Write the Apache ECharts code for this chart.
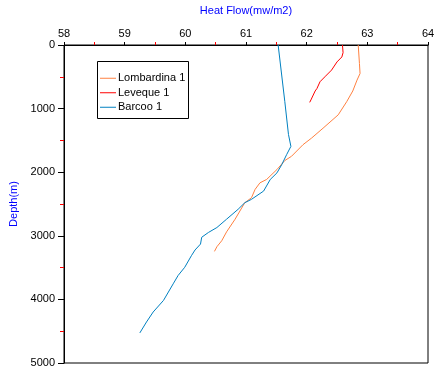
<!DOCTYPE html>
<html>
<head>
<meta charset="utf-8">
<script src="https://cdn.jsdelivr.net/npm/echarts@6/dist/echarts.min.js"></script>
<style>html,body{margin:0;padding:0;background:#fff}#c{width:443px;height:380px}</style>
</head>
<body>
<div id="c"></div>
<script>
var seriesNames = ['Lombardina 1', 'Leveque 1', 'Barcoo 1'];
var seriesColors = ['#FF8040', '#FF0000', '#0080C0'];

// Lombardina 1: heat flow (mw/m2) and depth (m)
var lombardinaHeat  = [62.85, 62.87, 62.88, 62.83, 62.76, 62.66, 62.52, 62.27, 62.08, 61.94, 61.75, 61.64, 61.51, 61.34, 61.23, 61.15, 61.09, 60.98, 60.82, 60.68, 60.60, 60.52, 60.48];
var lombardinaDepth = [0, 292, 448, 552, 723, 891, 1098, 1308, 1464, 1567, 1750, 1817, 1958, 2114, 2167, 2270, 2402, 2480, 2739, 2938, 3078, 3172, 3245];

// Leveque 1
var levequeHeat  = [62.59, 62.60, 62.58, 62.50, 62.41, 62.30, 62.22, 62.17, 62.14, 62.07, 62.05];
var levequeDepth = [0, 120, 188, 266, 395, 500, 578, 683, 723, 864, 902];

// Barcoo 1
var barcooHeat  = [61.53, 61.64, 61.70, 61.74, 61.67, 61.59, 61.51, 61.40, 61.29, 61.09, 60.98, 60.87, 60.68, 60.52, 60.38, 60.27, 60.25, 60.16, 60.10, 59.99, 59.88, 59.80, 59.64, 59.47, 59.36, 59.25];
var barcooDepth = [0, 891, 1406, 1594, 1723, 1880, 2011, 2114, 2297, 2427, 2480, 2583, 2739, 2870, 2948, 3023, 3130, 3223, 3313, 3495, 3625, 3755, 4016, 4198, 4355, 4527];

var xMin = 58, xMax = 64, xStep = 1;
var yMin = 0, yMax = 5000, yStep = 1000;

function pairs(xs, ys) { return xs.map(function (v, i) { return [v, ys[i]]; }); }
var allData = [pairs(lombardinaHeat, lombardinaDepth), pairs(levequeHeat, levequeDepth), pairs(barcooHeat, barcooDepth)];

var chart = echarts.init(document.getElementById('c'), null, {renderer: 'canvas'});
var font = 'Liberation Sans, Arial, sans-serif';
chart.setOption({
  animation: false,
  backgroundColor: '#fff',
  grid: {left: 64, top: 43, width: 364, height: 320, show: true, borderColor: '#000', borderWidth: 1, backgroundColor: 'transparent'},
  xAxis: {
    type: 'value', position: 'top', min: xMin, max: xMax, interval: xStep,
    name: 'Heat Flow(mw/m2)', nameLocation: 'middle', nameGap: 29,
    nameTextStyle: {color: '#0000FF', fontSize: 11, fontFamily: font},
    axisLine: {show: true, lineStyle: {color: '#000', width: 1}},
    axisTick: {show: true, inside: false, length: 3, lineStyle: {color: '#000'}},
    minorTick: {show: true, splitNumber: 2, length: 3, lineStyle: {color: '#FF0000'}},
    axisLabel: {color: '#000', fontSize: 11, fontFamily: font, margin: 6},
    splitLine: {show: false}
  },
  yAxis: {
    type: 'value', inverse: true, min: yMin, max: yMax, interval: yStep,
    name: 'Depth(m)', nameLocation: 'middle', nameGap: 42, nameRotate: 90,
    nameTextStyle: {color: '#0000FF', fontSize: 11, fontFamily: font},
    axisLine: {show: true, lineStyle: {color: '#000', width: 1}},
    axisTick: {show: true, inside: false, length: 6, lineStyle: {color: '#000'}},
    minorTick: {show: true, splitNumber: 2, length: 4, lineStyle: {color: '#FF0000'}},
    axisLabel: {color: '#000', fontSize: 11, fontFamily: font, margin: 9, formatter: function (v) { return String(v); }},
    splitLine: {show: false}
  },
  legend: {
    orient: 'vertical', left: 100, top: 71, padding: 0, itemGap: 0,
    icon: 'rect', itemWidth: 16, itemHeight: 1,
    textStyle: {color: '#000', fontSize: 11, fontFamily: font, lineHeight: 14.5, padding: [0, 0, 0, -3]},
    data: seriesNames
  },
  graphic: [{
    type: 'rect', shape: {x: 97.5, y: 61.5, width: 91, height: 57},
    style: {fill: 'none', stroke: '#000', lineWidth: 1}, z: 100, silent: true
  }],
  series: seriesNames.map(function (n, i) {
    return {
      name: n, type: 'line', data: allData[i], symbol: 'none', showSymbol: false,
      lineStyle: {color: seriesColors[i], width: 1}, itemStyle: {color: seriesColors[i]},
      clip: true
    };
  })
});
</script>
</body>
</html>
